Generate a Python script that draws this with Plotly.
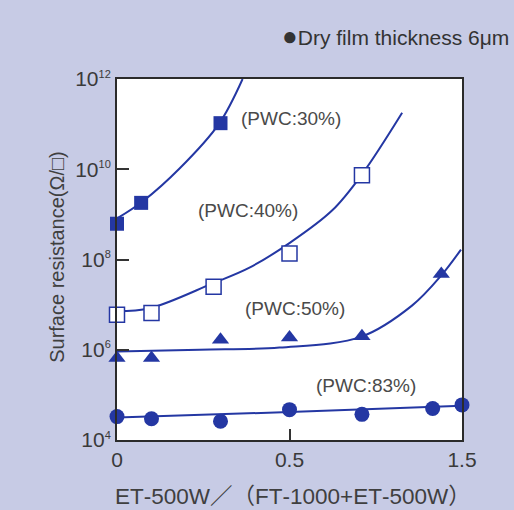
import plotly.graph_objects as go

# Measured surface resistance (Ω/□) vs. ET-500W / (FT-1000 + ET-500W)
pwc30_x = [0, 0.07, 0.3]
pwc30_y = [6.2e8, 1.8e9, 1.05e11]
pwc40_x = [0, 0.1, 0.28, 0.5, 0.92]
pwc40_y = [6.0e6, 6.5e6, 2.5e7, 1.35e8, 7.4e9]
pwc50_x = [0, 0.1, 0.3, 0.5, 0.92, 1.38]
pwc50_y = [6.6e5, 6.6e5, 1.66e6, 1.86e6, 2.0e6, 4.8e7]
pwc83_x = [0, 0.1, 0.3, 0.5, 0.92, 1.33, 1.5]
pwc83_y = [3.3e4, 2.95e4, 2.6e4, 4.7e4, 3.7e4, 5.0e4, 6.0e4]

# Trend curves (points along each hand-fitted curve)
fit30_x = [0, 0.075, 0.182, 0.295, 0.364]
fit30_y = [8.1e8, 1.95e9, 1.05e10, 1.0e11, 1.0e12]
fit40_x = [0, 0.095, 0.277, 0.384, 0.506, 0.748, 0.917, 1.153]
fit40_y = [7.1e6, 8.3e6, 2.95e7, 6.6e7, 2.4e8, 1.23e9, 7.4e9, 1.78e11]
fit50_x = [0, 0.24, 0.471, 0.917, 1.21, 1.379, 1.494]
fit50_y = [9.1e5, 1.0e6, 1.12e6, 1.95e6, 9.5e6, 4.4e7, 1.66e8]
fit83_x = [0, 0.5, 1.5]
fit83_y = [3.16e4, 4.17e4, 5.75e4]

series_labels = ["(PWC:30%)", "(PWC:40%)", "(PWC:50%)", "(PWC:83%)"]
x_ticks = [0, 0.5, 1.5]
x_tick_text = ["0", "0.5", "1.5"]
y_ticks = [1e4, 1e6, 1e8, 1e10, 1e12]
y_tick_text = ["10<sup><span style='font-size:11px'>%d</span></sup>" % e for e in (4, 6, 8, 10, 12)]

BLUE = "#2437a3"
FONT = "Liberation Sans, Arial, Noto Sans CJK JP, sans-serif"


def axis_pos(v):
    # the x-axis is compressed by half beyond 0.5
    return v if v <= 0.5 else 0.5 + (v - 0.5) / 2.0


def mapped(xs):
    return [axis_pos(v) for v in xs]


fig = go.Figure()

for fx, fy in [(fit30_x, fit30_y), (fit40_x, fit40_y), (fit50_x, fit50_y), (fit83_x, fit83_y)]:
    fig.add_trace(go.Scatter(
        x=mapped(fx), y=fy, mode="lines",
        line=dict(color=BLUE, width=2, shape="spline", smoothing=1.0),
        hoverinfo="skip", showlegend=False, cliponaxis=True,
    ))

marker_styles = [
    (pwc30_x, pwc30_y, dict(symbol="square", size=14, color=BLUE)),
    (pwc40_x, pwc40_y, dict(symbol="square", size=15, color="white",
                            line=dict(width=1.5, color=BLUE))),
    (pwc50_x, pwc50_y, dict(symbol="triangle-up", size=15, color=BLUE)),
    (pwc83_x, pwc83_y, dict(symbol="circle", size=15, color=BLUE)),
]
for mx, my, mk in marker_styles:
    fig.add_trace(go.Scatter(
        x=mapped(mx), y=my, mode="markers", marker=mk,
        showlegend=False, cliponaxis=False,
    ))

label_pos = [(0.504, 11.13), (0.38, 9.09), (0.516, 6.91), (0.722, 5.2)]
annotations = []
for text, (ax, ay) in zip(series_labels, label_pos):
    annotations.append(dict(
        x=ax, y=ay, xref="x", yref="y", text=text, showarrow=False,
        font=dict(family=FONT, size=19, color="#4a4a4a"),
    ))

annotations.append(dict(
    x=1.142, y=1.119, xref="paper", yref="paper", xanchor="right", yanchor="middle",
    text="<span style='font-size:26px'>●</span>Dry film thickness 6μm", showarrow=False,
    font=dict(family=FONT, size=21, color="#333333"),
))
annotations.append(dict(
    x=-0.212, y=0.507, xref="paper", yref="paper", textangle=-90,
    text="Surface resistance(Ω/□)", showarrow=False,
    font=dict(family=FONT, size=20, color="#3f3f3f"),
))
annotations.append(dict(
    x=0.51, y=-0.197, xref="paper", yref="paper",
    text="ET‐500W／（FT‐1000+ET‐500W）", showarrow=False,
    font=dict(family=FONT, size=22.5, color="#3f3f3f"),
))

fig.update_layout(
    width=514, height=510,
    margin=dict(l=117, r=52, t=79, b=70),
    paper_bgcolor="#c7cbe5",
    plot_bgcolor="white",
    font=dict(family=FONT, size=21, color="#3a3a3a"),
    annotations=annotations,
    xaxis=dict(
        range=[0, 1.0],
        tickvals=mapped(x_ticks), ticktext=x_tick_text,
        ticks="inside", ticklen=11, tickwidth=1.5, tickcolor="#333",
        showline=True, mirror=True, linecolor="#2b2b2b", linewidth=2,
        showgrid=False, zeroline=False,
        tickfont=dict(family=FONT, size=21, color="#3a3a3a"),
    ),
    yaxis=dict(
        type="log", range=[4, 12],
        tickvals=y_ticks, ticktext=y_tick_text,
        ticks="inside", ticklen=12, tickwidth=1.5, tickcolor="#333",
        showline=True, mirror=True, linecolor="#2b2b2b", linewidth=2,
        showgrid=False, zeroline=False,
        tickfont=dict(family=FONT, size=21, color="#3a3a3a"),
    ),
)

fig.write_html("out.html")
